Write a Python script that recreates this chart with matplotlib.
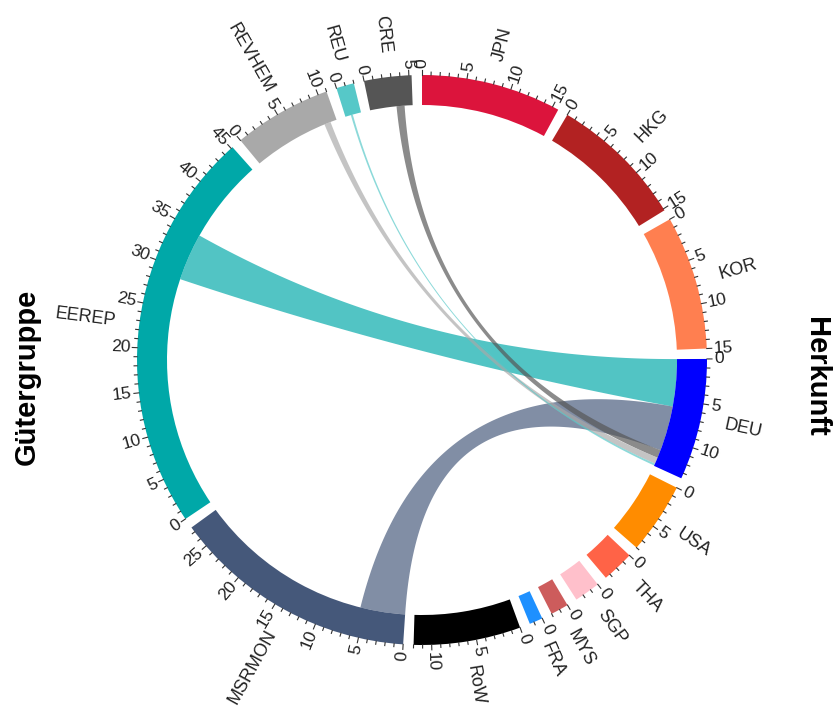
import numpy as np
import matplotlib.pyplot as plt
from matplotlib.patches import Wedge, Polygon

plt.rcParams['font.family'] = ['Liberation Sans', 'DejaVu Sans']

# --- Data ---
sectors = ["JPN", "HKG", "KOR", "DEU", "USA", "THA", "SGP", "MYS", "FRA", "RoW",
           "MSRMON", "EEREP", "REVHEM", "REU", "CRE"]
totals = [15.7, 15.2, 15.0, 13.6, 8.0, 3.6, 2.9, 2.0, 1.5, 12.0,
          27.6, 45.2, 11.0, 2.0, 5.3]
colors = ["#DC143C", "#B22222", "#FF7F50", "#0000FF", "#FF8C00", "#FF6347",
          "#FFC0CB", "#CD5C5C", "#1E90FF", "#000000",
          "#45587A", "#00A8A8", "#A9A9A9", "#56C8C8", "#555555"]

# links shown (all into DEU); offset = position inside the source sector
link_from = ["EEREP", "MSRMON", "CRE", "REVHEM", "REU"]
link_to = ["DEU", "DEU", "DEU", "DEU", "DEU"]
link_value = [5.9, 5.6, 1.0, 0.8, 0.25]
link_from_offset = [28.8, 0.0, 3.3, 9.4, 0.7]

# --- Layout ---
W, H = 835, 715
cx, cy = 422, H - 360
R_out, R_in = 285, 255
gap = 2.1
start_deg = 90
unit = (360 - gap * len(sectors)) / sum(totals)

fig = plt.figure(figsize=(8.35, 7.15), dpi=100)
ax = fig.add_axes([0, 0, 1, 1])
ax.set_xlim(0, W)
ax.set_ylim(0, H)
ax.axis('off')


def pol(r, deg):
    a = np.deg2rad(deg)
    return cx + r * np.cos(a), cy + r * np.sin(a)


def facing(deg):
    d = (deg + 180) % 360 - 180
    if -90.5 <= d <= 90.5:
        return d, 'left'
    return d + 180, 'right'


sec_start = {}
cur = start_deg
for name, tot, col in zip(sectors, totals, colors):
    a0 = cur
    a1 = cur - tot * unit
    sec_start[name] = a0
    ax.add_patch(Wedge((cx, cy), R_out, a1, a0, width=R_out - R_in,
                       facecolor=col, edgecolor='none', zorder=3))
    # ticks
    for k in range(int(np.floor(tot)) + 1):
        ang = a0 - k * unit
        ln = 5 if k % 5 == 0 else 3
        x0, y0 = pol(R_out, ang)
        x1, y1 = pol(R_out + ln, ang)
        ax.plot([x0, x1], [y0, y1], color='#333333', lw=0.8, zorder=3)
        if k % 5 == 0:
            rot, ha = facing(ang)
            tx, ty = pol(R_out + 7, ang)
            ax.text(tx, ty, str(k), rotation=rot, ha=ha, va='center',
                    rotation_mode='anchor', fontsize=12.5, color='#222222')
    # sector name
    mid = (a0 + a1) / 2
    rot, ha = facing(mid)
    tx, ty = pol(R_out + 24, mid)
    ax.text(tx, ty, name, rotation=rot, ha=ha, va='center',
            rotation_mode='anchor', fontsize=13, color='#222222')
    cur = a1 - gap


def arc(a0, a1, r, n=40):
    t = np.deg2rad(np.linspace(a0, a1, n))
    return np.column_stack([cx + r * np.cos(t), cy + r * np.sin(t)])


def bezier(p0, p2, n=80):
    t = np.linspace(0, 1, n)[:, None]
    c = np.array([cx, cy])
    return (1 - t) ** 2 * p0 + 2 * (1 - t) * t * c + t ** 2 * p2


# --- Links ---
to_used = {}
for src, dst, val, off in zip(link_from, link_to, link_value, link_from_offset):
    s0 = sec_start[src] - off * unit
    s1 = s0 - val * unit
    used = to_used.get(dst, 0.0)
    t0 = sec_start[dst] - used * unit
    t1 = t0 - val * unit
    to_used[dst] = used + val
    A = arc(s0, s1, R_in)
    B = arc(t0, t1, R_in)
    pts = np.vstack([A, bezier(A[-1], B[0]), B, bezier(B[-1], A[0])])
    col = colors[sectors.index(src)]
    ax.add_patch(Polygon(pts, closed=True, facecolor=col, edgecolor='none',
                         alpha=0.68, zorder=2))

# side titles
ax.text(27, H - 377, "Gütergruppe", rotation=90, ha='center', va='center',
        fontsize=21, fontweight='bold')
ax.text(816, H - 377, "Herkunft", rotation=-90, ha='center', va='center',
        fontsize=21, fontweight='bold')

plt.savefig('out.png', dpi=100)
